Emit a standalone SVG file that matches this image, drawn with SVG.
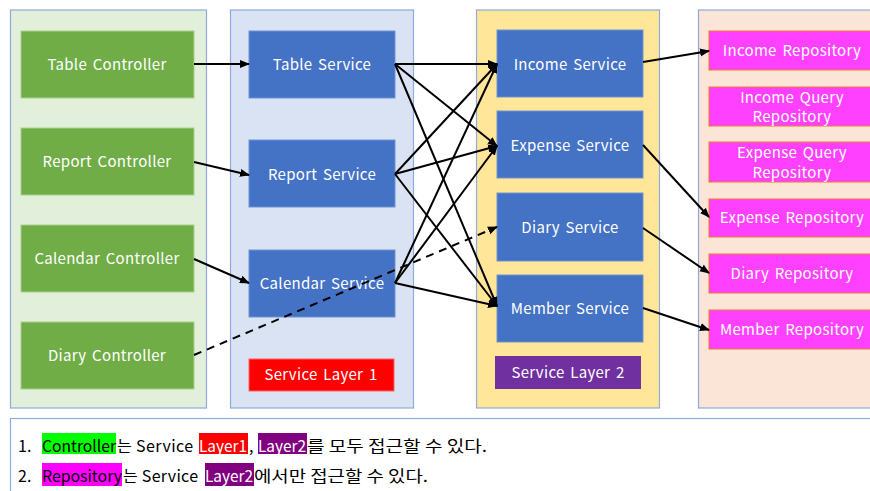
<svg xmlns="http://www.w3.org/2000/svg" width="870" height="491" viewBox="0 0 870 491">
<defs>
<marker id="ah" viewBox="0 0 10 10" refX="9" refY="5" markerWidth="5" markerHeight="5" orient="auto" markerUnits="strokeWidth">
<path d="M0,1 L10,5 L0,9 z" fill="#000"/>
</marker>
<style>
.panel{stroke:#8FAADC;stroke-width:1.2}
.ctl{fill:#70AD47;stroke:#A9D18E;stroke-width:1}
.svc{fill:#4472C4;stroke:#6F93D3;stroke-width:1}
.repo{fill:#FF40FF;stroke:#ED7D31;stroke-width:1}
.t{font-family:"Noto Sans CJK KR","Noto Sans",sans-serif;font-size:15px;fill:#fff;text-anchor:middle;letter-spacing:0.3px;word-spacing:2px}
.lg{font-family:"Noto Sans CJK KR","Noto Sans",sans-serif;font-size:16px;fill:#000}
.c{stroke:#000;stroke-width:2;fill:none;marker-end:url(#ah)}
</style>
</defs>
<rect width="870" height="491" fill="#fff"/>
<g id="panels">
<rect class="panel" x="10.5" y="10" width="196" height="398" fill="#E2EFDA"/>
<rect class="panel" x="230.5" y="10" width="183" height="398" fill="#DAE3F3"/>
<rect class="panel" x="476.5" y="10" width="183" height="398" fill="#FFE699"/>
<rect class="panel" x="698.5" y="10" width="180" height="398" fill="#FBE5D6"/>
</g>
<g id="table-controller"><rect class="ctl" x="21" y="31" width="173" height="67"/><text class="t" x="107" y="70">Table Controller</text></g>
<g id="report-controller"><rect class="ctl" x="21" y="128" width="173" height="67"/><text class="t" x="107" y="167">Report Controller</text></g>
<g id="calendar-controller"><rect class="ctl" x="21" y="225" width="173" height="67"/><text class="t" x="107" y="264">Calendar Controller</text></g>
<g id="diary-controller"><rect class="ctl" x="21" y="322" width="173" height="67"/><text class="t" x="107" y="361">Diary Controller</text></g>
<g id="table-service"><rect class="svc" x="249" y="31" width="146" height="67"/><text class="t" x="322" y="70">Table Service</text></g>
<g id="report-service"><rect class="svc" x="249" y="140" width="146" height="67"/><text class="t" x="322" y="180">Report Service</text></g>
<g id="calendar-service"><rect class="svc" x="249" y="250" width="146" height="67"/><text class="t" x="322" y="289">Calendar Service</text></g>
<g id="service-layer-1"><rect x="249" y="359" width="145" height="32" fill="#FF0000" stroke="#FF6060"/><text class="t" x="321" y="380">Service Layer 1</text></g>
<g id="income-service"><rect class="svc" x="497" y="30" width="146" height="67"/><text class="t" x="570" y="70">Income Service</text></g>
<g id="expense-service"><rect class="svc" x="497" y="111" width="146" height="67"/><text class="t" x="570" y="151">Expense Service</text></g>
<g id="diary-service"><rect class="svc" x="497" y="193" width="146" height="68"/><text class="t" x="570" y="233">Diary Service</text></g>
<g id="member-service"><rect class="svc" x="497" y="275" width="146" height="67"/><text class="t" x="570" y="314">Member Service</text></g>
<g id="service-layer-2"><rect x="495" y="356" width="146" height="33" fill="#7030A0"/><text class="t" x="568" y="378">Service Layer 2</text></g>
<g id="income-repository"><rect class="repo" x="709" y="31" width="167" height="39"/><text class="t" x="792" y="56">Income Repository</text></g>
<g id="income-query-repository"><rect class="repo" x="709" y="87" width="167" height="39"/><text class="t" x="792" y="103">Income Query</text><text class="t" x="792" y="122">Repository</text></g>
<g id="expense-query-repository"><rect class="repo" x="709" y="142" width="167" height="40"/><text class="t" x="792" y="158">Expense Query</text><text class="t" x="792" y="178">Repository</text></g>
<g id="expense-repository"><rect class="repo" x="709" y="199" width="167" height="38"/><text class="t" x="792" y="223">Expense Repository</text></g>
<g id="diary-repository"><rect class="repo" x="709" y="254" width="167" height="39"/><text class="t" x="792" y="279">Diary Repository</text></g>
<g id="member-repository"><rect class="repo" x="709" y="310" width="167" height="39"/><text class="t" x="792" y="335">Member Repository</text></g>
<g id="connectors">
<line class="c" x1="194" y1="64" x2="249" y2="64"/>
<line class="c" x1="194" y1="162" x2="249" y2="175"/>
<line class="c" x1="194" y1="259" x2="249" y2="283"/>
<line class="c" x1="194" y1="355" x2="497" y2="227" stroke-dasharray="8,6"/>
<line class="c" x1="395" y1="64" x2="497" y2="64"/>
<line class="c" x1="395" y1="64" x2="497" y2="146"/>
<line class="c" x1="395" y1="64" x2="497" y2="306"/>
<line class="c" x1="395" y1="174" x2="497" y2="64"/>
<line class="c" x1="395" y1="174" x2="497" y2="146"/>
<line class="c" x1="395" y1="174" x2="497" y2="306"/>
<line class="c" x1="395" y1="283" x2="497" y2="64"/>
<line class="c" x1="395" y1="283" x2="497" y2="146"/>
<line class="c" x1="395" y1="283" x2="497" y2="306"/>
<line class="c" x1="643" y1="62" x2="709" y2="51"/>
<line class="c" x1="643" y1="145" x2="709" y2="217"/>
<line class="c" x1="643" y1="228" x2="709" y2="273"/>
<line class="c" x1="643" y1="308" x2="709" y2="330"/>
</g>
<g id="legend">
<rect x="10.5" y="418.5" width="870" height="80" fill="#fff" stroke="#8FAADC" stroke-width="1.2"/>
<rect x="42" y="433" width="74" height="21" fill="#00FF00"/>
<rect x="199" y="433" width="49" height="21" fill="#FF0000"/>
<rect x="258" y="433" width="49" height="21" fill="#800080"/>
<rect x="42" y="463" width="80" height="23" fill="#FF00FF"/>
<rect x="205" y="463" width="49" height="23" fill="#800080"/>
<text class="lg" x="18" y="452">1.</text>
<text class="lg" x="42" y="452" textLength="74" lengthAdjust="spacingAndGlyphs">Controller</text>
<text class="lg" x="117" y="452" textLength="76" lengthAdjust="spacing">는 Service</text>
<text class="lg" x="199" y="452" style="fill:#fff" textLength="48" lengthAdjust="spacingAndGlyphs">Layer1</text>
<text class="lg" x="249" y="452">,</text>
<text class="lg" x="258" y="452" style="fill:#fff" textLength="48" lengthAdjust="spacingAndGlyphs">Layer2</text>
<text class="lg" x="307" y="452" textLength="180" lengthAdjust="spacingAndGlyphs">를 모두 접근할 수 있다.</text>
<text class="lg" x="18" y="482">2.</text>
<text class="lg" x="42" y="482" textLength="80" lengthAdjust="spacingAndGlyphs">Repository</text>
<text class="lg" x="123" y="482" textLength="75" lengthAdjust="spacing">는 Service</text>
<text class="lg" x="205" y="482" style="fill:#fff" textLength="48" lengthAdjust="spacingAndGlyphs">Layer2</text>
<text class="lg" x="254" y="482" textLength="174" lengthAdjust="spacingAndGlyphs">에서만 접근할 수 있다.</text>
</g>
</svg>
